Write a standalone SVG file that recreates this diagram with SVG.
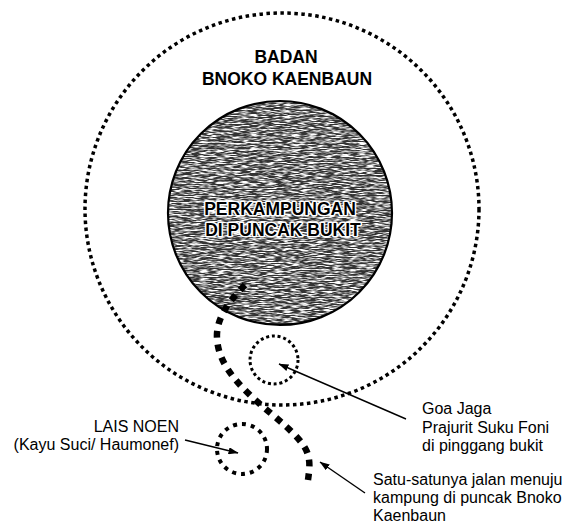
<svg xmlns="http://www.w3.org/2000/svg" width="564" height="528" viewBox="0 0 564 528">
  <style>
    .lbl { font-family: "Liberation Sans", Arial, sans-serif; font-size: 16px; fill: #000; }
    .bold { font-family: "Liberation Sans", Arial, sans-serif; font-weight: bold; font-size: 17.5px; fill: #000; text-anchor: middle; }
    .halo { stroke: #fff; stroke-width: 3; paint-order: stroke; stroke-linejoin: round; }
    .dot { fill: none; stroke: #000; stroke-linecap: butt; }
    .arrow { fill: none; stroke: #000; stroke-width: 1.4; marker-end: url(#ah); }
  </style>
  <defs>
    <marker id="ah" markerUnits="userSpaceOnUse" markerWidth="10" markerHeight="7" refX="9.5" refY="3.5" orient="auto">
      <path d="M0,0 L10,3.5 L0,7 z" fill="#000"/>
    </marker>
    <clipPath id="hill"><circle cx="280" cy="213" r="112"/></clipPath>
    <filter id="grain" x="0" y="0" width="1" height="1" filterUnits="objectBoundingBox">
      <feTurbulence type="fractalNoise" baseFrequency="0.12 0.85" numOctaves="2" seed="7" result="n"/>
      <feColorMatrix in="n" type="matrix" values="0 0 0 0 1  0 0 0 0 1  0 0 0 0 1  3.6 0 0 0 -1.45"/>
    </filter>
  </defs>

  <g id="badan">
    <ellipse class="dot" cx="282" cy="209" rx="197" ry="196" stroke-width="3.5" stroke-dasharray="3.5 3.5"/>
    <text class="bold" x="286" y="63">BADAN</text>
    <text class="bold" x="287" y="85">BNOKO KAENBAUN</text>
  </g>

  <g id="perkampungan">
    <circle cx="280" cy="213" r="112" fill="#333"/>
    <rect x="166" y="99" width="228" height="228" fill="#fff" filter="url(#grain)" clip-path="url(#hill)"/>
    <circle cx="280" cy="213" r="112" fill="none" stroke="#000" stroke-width="2.2"/>
    <text class="bold halo" x="280" y="215">PERKAMPUNGAN</text>
    <text class="bold halo" x="283" y="236">DI PUNCAK BUKIT</text>
  </g>

  <g id="jalan">
    <path class="dot" d="M245,285 C227,303 216,320 217,338 C218,360 232,378 252,397 C275,418 300,435 307,452 C311,462 309,472 308,480" pathLength="227.5" stroke-width="6.5" stroke-dasharray="6.5 6.5"/>
  </g>

  <g id="goa">
    <circle class="dot" cx="274" cy="360" r="24" stroke-width="3" stroke-dasharray="3 2.8"/>
  </g>

  <g id="lais">
    <circle class="dot" cx="242" cy="449" r="25" stroke-width="4" stroke-dasharray="4 5"/>
  </g>

  <g id="connectors">
    <line class="arrow" x1="185" y1="440" x2="238" y2="453"/>
    <line class="arrow" x1="406" y1="419" x2="279" y2="364"/>
    <line class="arrow" x1="365" y1="493" x2="320" y2="462"/>
  </g>

  <g id="labels">
    <text class="lbl" x="179" y="432" text-anchor="end">LAIS NOEN</text>
    <text class="lbl" x="179" y="450" text-anchor="end">(Kayu Suci/ Haumonef)</text>
    <text class="lbl" x="422" y="414">Goa Jaga</text>
    <text class="lbl" x="422" y="433">Prajurit Suku Foni</text>
    <text class="lbl" x="422" y="451">di pinggang bukit</text>
    <text class="lbl" x="373" y="485">Satu-satunya jalan menuju</text>
    <text class="lbl" x="373" y="503">kampung di puncak Bnoko</text>
    <text class="lbl" x="373" y="521">Kaenbaun</text>
  </g>
</svg>
